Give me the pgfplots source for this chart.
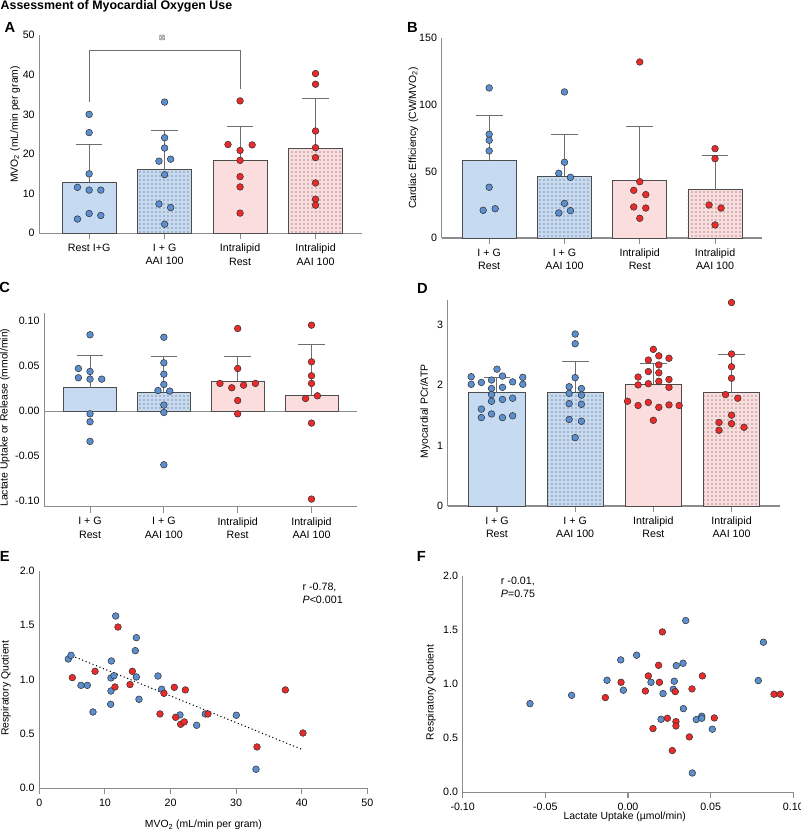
\documentclass[border=0pt]{standalone}
\usepackage{pgfplots}
\pgfplotsset{compat=1.18}
\usepackage{fontspec}
\setmainfont{Liberation Sans}
\newfontfamily\dejavu{DejaVu Sans}
\usetikzlibrary{patterns}

\definecolor{barblue}{HTML}{C6DAF1}
\definecolor{barpink}{HTML}{FCDDDD}
\definecolor{dotblue}{HTML}{5B8FD0}
\definecolor{dotred}{HTML}{EC2A2A}
\definecolor{edgegray}{HTML}{4D4D4D}
\definecolor{errgray}{HTML}{6E6E6E}
\definecolor{axgray}{HTML}{8C8C8C}

\pgfplotsset{
  base/.style={
    scale only axis, anchor=south west, clip=false,
    axis x line*=bottom, axis y line*=left,
    axis line style={axgray, line width=0.8pt},
    xtick align=outside, ytick align=inside,
    major tick length=4.5pt,
    xtick style={axgray, line width=0.8pt},
    ytick style={draw=none},
    tick label style={font=\fontsize{8}{10}\selectfont, text=black},
    label style={font=\fontsize{7.8}{9}\selectfont},
    /pgf/number format/assume math mode=true,
    scaled ticks=false,
  },
  bars/.style={base, xmin=-0.63, xmax=3.62, xtick={0,1,2,3},
    xticklabels={{I + G\\Rest},{I + G\\AAI 100},{Intralipid\\Rest},{Intralipid\\AAI 100}},
    xticklabel style={align=center}},
  ylab/.style 2 args={ylabel style={at={([xshift=-#1]axis description cs:0,#2)}, anchor=center}},
  bbar/.style={ybar, bar width=0.72, bar shift=0pt, draw=edgegray, line width=0.6pt, fill=barblue,
    /pgfplots/error bars/y dir=plus, /pgfplots/error bars/y explicit,
    /pgfplots/error bars/error bar style={draw=errgray, line width=0.75pt},
    /pgfplots/error bars/error mark options={rotate=90, draw=errgray, line width=0.75pt, mark size=10pt}},
  pbar/.style={bbar, fill=barpink},
  dpat/.style={postaction={pattern=dots, pattern color=black!75}},
  bdot/.style={only marks, mark=*, mark size=2.5pt, mark options={fill=dotblue, draw=black!80, line width=0.4pt}},
  rdot/.style={only marks, mark=*, mark size=2.5pt, mark options={fill=dotred, draw=black!80, line width=0.4pt}},
}

\begin{document}
\begin{tikzpicture}
\useasboundingbox (0,0) rectangle (600pt,624pt);
\node[anchor=west, font=\bfseries\fontsize{9.3}{11}\selectfont, inner sep=0pt] at (0.3pt,619.3pt) {Assessment of Myocardial Oxygen Use};
\node[font=\bfseries\fontsize{11}{12}\selectfont] at (7.5pt,603.75pt) {A};
\node[font=\bfseries\fontsize{11}{12}\selectfont] at (309.4pt,603.75pt) {B};
\node[font=\bfseries\fontsize{11}{12}\selectfont] at (3.5pt,408.75pt) {C};
\node[font=\bfseries\fontsize{11}{12}\selectfont] at (316.9pt,408pt) {D};
\node[font=\bfseries\fontsize{11}{12}\selectfont] at (3.5pt,207pt) {E};
\node[font=\bfseries\fontsize{11}{12}\selectfont] at (316.1pt,206.6pt) {F};

% ---------------- A
\begin{axis}[bars, at={(29.5pt,449pt)}, width=242.25pt, height=148.7pt,
  xmin=-0.66, xmax=3.62, ymin=0, ymax=50, ytick={0,10,20,30,40,50},
  xticklabels={{Rest I+G},{I + G\\AAI 100},{Intralipid\\Rest},{Intralipid\\AAI 100}},
  ylabel={MVO\textsubscript{2} (mL/min per gram)}, ylab={18.2pt}{0.55}]
\addplot[bbar] coordinates {(0,12.9) +- (0,9.4)};
\addplot[bbar, dpat] coordinates {(1,16.2) +- (0,9.8)};
\addplot[pbar] coordinates {(2,18.5) +- (0,8.5)};
\addplot[pbar, dpat] coordinates {(3,21.5) +- (0,12.5)};
\addplot[errgray, line width=0.75pt] coordinates {(0,33.2) (0,46.2) (2,46.2) (2,36.3)};
\node[font=\dejavu\fontsize{6}{6}\selectfont, text=errgray] at (axis cs:0.97,49.2) {⊠};
\addplot[bdot] coordinates {(-0.155,11.6) (0,10.9) (0.155,10.9) (0,30.0) (0,25.4) (0,15.0) (0,5.0) (-0.155,3.6) (0.155,4.5)
  (1,33.1) (1,24.1) (1,21.5) (0.925,18.2) (1.08,18.7) (1,14.8) (0.925,7.4) (1.08,6.5) (1,2.3)};
\addplot[rdot] coordinates {(2,33.4) (1.84,22.4) (2.16,22.3) (2,20.9) (2,18.4) (2,14.3) (2,11.7) (2,5.1)
  (3,40.3) (3,37.6) (3,25.8) (3,21.6) (3,19.1) (3,12.7) (3,8.6) (3,7.1)};
\end{axis}

% ---------------- B
\begin{axis}[bars, at={(331.3pt,445.5pt)}, width=240pt, height=149.8pt,
  ymin=0, ymax=150, ytick={0,50,100,150},
  ylabel={Cardiac Efficiency (CW/MVO\textsubscript{2})}, ylab={21.3pt}{0.5}]
\addplot[bbar] coordinates {(0,58.3) +- (0,33.9)};
\addplot[bbar, dpat] coordinates {(1,46.3) +- (0,31.6)};
\addplot[pbar] coordinates {(2,43.1) +- (0,40.8)};
\addplot[pbar, dpat] coordinates {(3,36.3) +- (0,25.6)};
\addplot[bdot] coordinates {(0,112.7) (0,77.9) (0,73.4) (0,65.4) (0,38.1) (-0.08,20.8) (0.08,22.0)
  (1,109.7) (1,56.9) (0.925,48.6) (1.08,45.6) (1,26.0) (0.925,18.8) (1.08,20.5)};
\addplot[rdot] coordinates {(2,132.2) (2,42.3) (1.92,35.8) (2.08,32.6) (1.92,23.3) (2.08,22.5) (2,14.8)
  (3,67.1) (3,59.6) (2.92,24.8) (3.08,22.5) (3,9.8)};
\end{axis}

% ---------------- C
\begin{axis}[bars, at={(33.2pt,244pt)}, width=234.75pt, height=145pt,
  xmin=-0.62, xmax=3.62, ymin=-0.106, ymax=0.1085, ytick={-0.1,-0.05,0,0.05,0.1},
  yticklabel style={/pgf/number format/.cd, fixed, fixed zerofill, precision=2},
  ylabel={Lactate Uptake or Release (mmol/min)}, ylab={29.5pt}{0.46}]
\addplot[axgray, line width=0.8pt] coordinates {(-0.62,0) (3.62,0)};
\addplot[bbar] coordinates {(0,0.0259) +- (0,0.0362)};
\addplot[bbar, dpat] coordinates {(1,0.0211) +- (0,0.0399)};
\addplot[pbar] coordinates {(2,0.0329) +- (0,0.0281)};
\addplot[pbar] coordinates {(3,0.0174) +- (0,0.0569)};
\addplot[bdot] coordinates {(-0.158,0.0473) (0,0.0440) (-0.158,0.0370) (0,0.0355) (0.158,0.0355) (0,0.0847) (0,-0.003) (0,-0.0118) (0,-0.0336)
  (1,0.082) (1,0.0536) (1,0.041) (1,0.0296) (0.92,0.0229) (1.08,0.0222) (1,0.0067) (1,-0.0015) (1,-0.0595)};
\addplot[rdot] coordinates {(2,0.0917) (2,0.0473) (1.76,0.0307) (1.92,0.0259) (2.08,0.0288) (2.24,0.0307) (2,0.0118) (2,-0.003)
  (3,0.0954) (3,0.0547) (3,0.0392) (3,0.0307) (2.92,0.0140) (3.08,0.0170) (3,-0.0133) (3,-0.0976)};
\end{axis}

% ---------------- D
\begin{axis}[bars, at={(335.8pt,244.5pt)}, width=249.2pt, height=154.4pt,
  ymin=0, ymax=3.4, ytick={0,1,2,3},
  ylabel={Myocardial PCr/ATP}, ylab={17pt}{0.46}]
\addplot[bbar] coordinates {(0,1.87) +- (0,0.25)};
\addplot[bbar, dpat] coordinates {(1,1.88) +- (0,0.50)};
\addplot[pbar] coordinates {(2,2.01) +- (0,0.34)};
\addplot[pbar, dpat] coordinates {(3,1.88) +- (0,0.63)};
\addplot[bdot] coordinates {(0,2.26) (-0.33,2.135) (-0.33,2.01) (-0.20,2.04) (-0.07,2.08) (0.07,2.146) (0.20,2.05) (0.33,2.125) (0.33,2.01)
  (-0.07,1.94) (0.07,1.96) (-0.07,1.84) (-0.07,1.73) (0.07,1.76) (0.20,1.78) (-0.20,1.60) (-0.20,1.46) (-0.07,1.52) (0.07,1.46) (0.20,1.49)
  (1,2.84) (1,2.68) (1,2.12) (0.923,1.97) (1.08,1.94) (0.923,1.86) (1.08,1.83) (0.923,1.69) (1.08,1.68) (0.923,1.43) (1.08,1.40) (1,1.13)};
\addplot[rdot] coordinates {(2,2.587) (2.07,2.48) (1.936,2.41) (2.2,2.44) (2.07,2.33) (1.936,2.22) (2.07,2.20) (1.805,2.13) (2.2,2.09) (2.07,2.06)
  (1.936,2.02) (1.805,2.00) (2.2,1.96) (1.67,1.73) (1.805,1.66) (1.936,1.71) (2.07,1.63) (2.2,1.67) (2.33,1.66) (2,1.415)
  (3,3.36) (3,2.51) (3,2.30) (3,2.11) (2.923,1.84) (3.08,1.78) (3,1.50) (2.84,1.38) (3,1.36) (2.84,1.25) (3.16,1.30)};
\end{axis}

% ---------------- E
\begin{axis}[base, at={(29.5pt,32.8pt)}, width=246pt, height=163.2pt,
  xmin=0, xmax=50, ymin=0, ymax=2, xtick={0,10,20,30,40,50}, ytick={0,0.5,1,1.5,2},
  yticklabel style={/pgf/number format/.cd, fixed, fixed zerofill, precision=1},
  xlabel={MVO\textsubscript{2} (mL/min per gram)},
  xlabel style={at={(axis description cs:0.5,0)}, anchor=center, yshift=-27.75pt},
  ylabel={Respiratory Quotient}, ylab={25pt}{0.46}]
\addplot[black, dotted, line width=0.8pt] coordinates {(4.42,1.231) (40.0,0.358)};
\addplot[bdot] coordinates {(4.42,1.188) (4.83,1.222) (6.35,0.946) (7.32,0.946) (8.18,0.701) (11.64,1.583) (10.98,1.170) (10.92,1.014) (11.38,1.035) (10.92,0.894) (10.87,0.772) (14.79,1.384) (14.63,1.265) (14.79,1.023) (15.19,0.818) (18.09,1.032) (18.65,0.910) (21.44,0.674) (23.98,0.579) (25.30,0.683) (30.03,0.671) (33.03,0.175)};
\addplot[rdot] coordinates {(11.99,1.482) (5.03,1.017) (8.49,1.075) (14.18,1.075) (11.53,0.931) (13.82,0.953) (19.00,0.873) (20.58,0.928) (22.26,0.904) (18.39,0.683) (20.78,0.652) (21.54,0.588) (22.10,0.610) (25.71,0.683) (37.50,0.904) (40.19,0.508) (33.18,0.380)};
\node[anchor=north west, align=left, inner sep=0pt, font=\fontsize{8}{10}\selectfont] at (axis cs:40.1,1.89) {r -0.78,\\\textit{P}<0.001};
\end{axis}

% ---------------- F
\begin{axis}[base, at={(347pt,29.8pt)}, width=248pt, height=162.5pt,
  xmin=-0.1, xmax=0.1, ymin=0, ymax=2, xtick={-0.1,-0.05,0,0.05,0.1}, ytick={0,0.5,1,1.5,2},
  xticklabel style={/pgf/number format/.cd, fixed, fixed zerofill, precision=2},
  yticklabel style={/pgf/number format/.cd, fixed, fixed zerofill, precision=1},
  xlabel={Lactate Uptake (µmol/min)},
  xlabel style={at={(axis description cs:0.49,0)}, anchor=center, yshift=-18.3pt},
  ylabel={Respiratory Quotient}, ylab={23.8pt}{0.46}]
\addplot[bdot] coordinates {(-0.0593,0.818) (-0.0341,0.895) (-0.0127,1.034) (-0.0044,1.222) (-0.0028,0.942) (0.0052,1.265) (0.0139,1.015) (0.0200,0.674) (0.0212,0.911) (0.0274,0.951) (0.0280,1.025) (0.0292,1.169) (0.0333,1.191) (0.0349,1.585) (0.0335,0.772) (0.0389,0.178) (0.0413,0.671) (0.0446,0.702) (0.0446,0.683) (0.0510,0.582) (0.0788,1.031) (0.0819,1.385)};
\addplot[rdot] coordinates {(-0.0137,0.874) (-0.0042,1.015) (0.0105,0.935) (0.0123,1.074) (0.0185,1.172) (0.0190,1.015) (0.0208,1.480) (0.0151,0.588) (0.0238,0.683) (0.0286,0.929) (0.0290,0.652) (0.0290,0.612) (0.0268,0.385) (0.0387,0.954) (0.0371,0.511) (0.0450,1.074) (0.0522,0.686) (0.0883,0.905) (0.0921,0.905)};
\node[anchor=north west, align=left, inner sep=0pt, font=\fontsize{8}{10}\selectfont] at (axis cs:-0.077,1.99) {r -0.01,\\\textit{P}=0.75};
\end{axis}
\end{tikzpicture}
\end{document}
